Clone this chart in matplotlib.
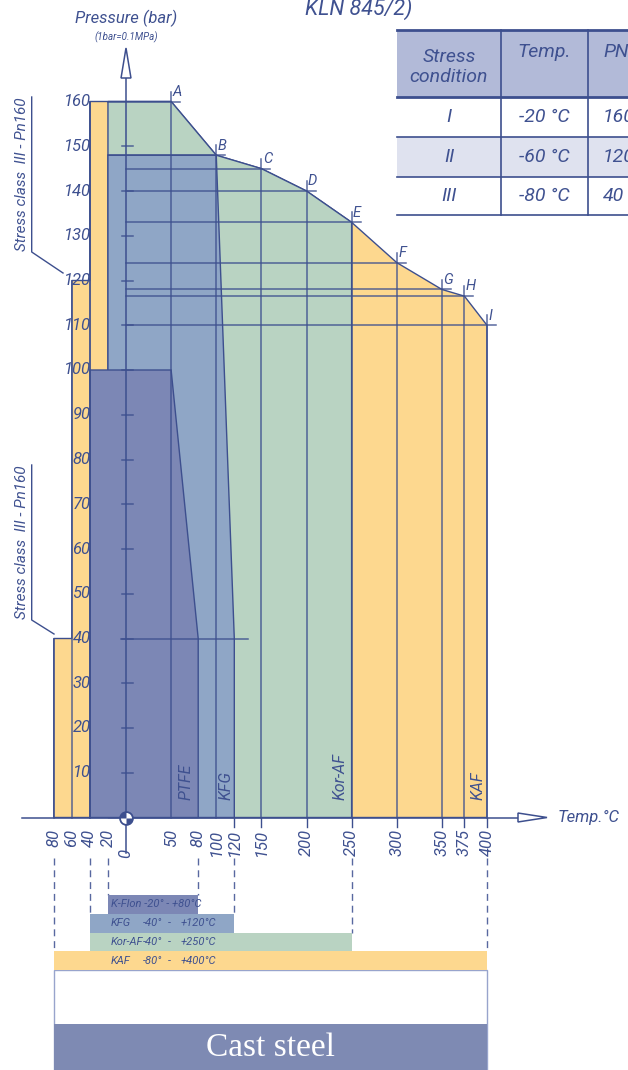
import matplotlib
matplotlib.use('Agg')
import matplotlib.pyplot as plt
from matplotlib.patches import Polygon, Rectangle
from matplotlib.path import Path

plt.rcParams['font.family'] = ['Roboto', 'DejaVu Sans']
plt.rcParams['font.weight'] = 'normal'

# --- chart data: temperature (deg C) / pressure (bar) ---
point_names = ['A', 'B', 'C', 'D', 'E', 'F', 'G', 'H', 'I']
point_temp = [50, 100, 150, 200, 250, 300, 350, 375, 400]
point_press = [160, 148, 145, 140, 133, 124, 118, 116.5, 110]

kaf_step_temp = [-80, -60, -40]
kaf_step_press = [40, 120, 160]

korf_left = -20
kfg_temp = [-20, 100, 120]
kfg_press = [148, 148, 40]
ptfe_temp = [-40, 50, 80]
ptfe_press = [100, 100, 40]

x_ticks = [-80, -60, -40, -20, 0, 50, 80, 100, 120, 150, 200, 250, 300, 350, 375, 400]
y_ticks = list(range(10, 170, 10))

legend_names = ['K-Flon', 'KFG', 'Kor-AF', 'KAF']
legend_lo = [-20, -40, -40, -80]
legend_hi = [80, 120, 250, 400]

stress_cond = ['I', 'II', 'III']
stress_temp = ['-20 °C', '-60 °C', '-80 °C']
stress_pn = ['160', '120', '40']

# colours
C_KAF = '#fdd88f'
C_KOR = '#b9d3c2'
C_KFG = '#8fa6c6'
C_PTFE = '#7c87b5'
LINE = '#3d4f8e'
TXT = '#3f5190'

# pixel -> data helpers (used only for layout of decorations)
X0PX, XS = 126.0, 0.9025
Y0PX, YS = 817.5, 4.475
def tx(px):
    return (px - X0PX) / XS
def ty(py):
    return (Y0PX - py) / YS

fig = plt.figure(figsize=(6.28, 10.70), dpi=100)
ax = fig.add_axes([0, 0, 1, 1])
ax.set_xlim(tx(0), tx(628))
ax.set_ylim(ty(1070), ty(0))
ax.axis('off')

pts = list(zip(point_temp, point_press))

# KAF envelope
kaf = [(kaf_step_temp[0], 0)]
for i, (t, p) in enumerate(zip(kaf_step_temp, kaf_step_press)):
    if i > 0:
        kaf.append((t, kaf_step_press[i - 1]))
    kaf.append((t, p))
kaf += pts + [(point_temp[-1], 0)]
ax.add_patch(Polygon(kaf, closed=True, fc=C_KAF, ec=LINE, lw=1, zorder=1))

# Kor-AF
e_idx = point_temp.index(250)
kor = [(korf_left, 0), (korf_left, point_press[0])] + pts[:e_idx + 1] + [(point_temp[e_idx], 0)]
ax.add_patch(Polygon(kor, closed=True, fc=C_KOR, ec=LINE, lw=1, zorder=2))

# KFG
kfg = [(kfg_temp[0], 0)] + list(zip(kfg_temp, kfg_press)) + [(kfg_temp[-1], 0)]
ax.add_patch(Polygon(kfg, closed=True, fc=C_KFG, ec=LINE, lw=1, zorder=3))

# PTFE
ptfe = [(ptfe_temp[0], 0)] + list(zip(ptfe_temp, ptfe_press)) + [(ptfe_temp[-1], 0)]
ax.add_patch(Polygon(ptfe, closed=True, fc=C_PTFE, ec=LINE, lw=1, zorder=4))

lk = dict(color=LINE, lw=1.1, alpha=0.85, zorder=5)

# vertical lines at the steps
for t, p in zip(kaf_step_temp, kaf_step_press):
    ax.plot([t, t], [0, p], **lk)
ax.plot([-40, -40], [0, 160], **lk)

# point grid lines + letter markers
for name, t, p in zip(point_names, point_temp, point_press):
    ax.plot([t, t], [0, p + 2.2], **lk)
    x_start = korf_left if p >= 148 else 0
    ax.plot([x_start, t + 10], [p, p], **lk)
    ax.text(t + 1.5, p + 0.6, name, color=TXT, fontsize=10.5, style='italic',
            ha='left', va='bottom', zorder=7)

# 40 bar reference line
ax.plot([-5, 135], [40, 40], **lk)

# y axis with arrow
ax.plot([0, 0], [ty(853), ty(78)], color=LINE, lw=1.1, zorder=6)
ax.add_patch(Polygon([(-5.5, ty(78)), (5.5, ty(78)), (0, ty(48))], closed=True,
                     fc='white', ec=LINE, lw=1.1, zorder=6))
for p in y_ticks[:-1]:
    ax.plot([tx(122), tx(133)], [p, p], color=LINE, lw=1.1, alpha=0.85, zorder=6)
for p in y_ticks:
    ax.text(tx(90.5), p, str(p), color=TXT, fontsize=12, style='italic',
            ha='right', va='center', zorder=7)

# x axis with arrow
ax.plot([tx(22), tx(518)], [0, 0], color=LINE, lw=1.1, zorder=6)
ax.add_patch(Polygon([(tx(518), 1.0), (tx(518), -1.0), (tx(547), 0)], closed=True,
                     fc='white', ec=LINE, lw=1.1, zorder=6))
for t in x_ticks:
    if t > 100:
        ax.plot([t, t], [0, ty(827)], color=LINE, lw=1, zorder=6)
    lab = str(abs(t))
    y_lab = ty(849) if t == 0 else ty(829)
    ax.text(t, y_lab, lab, color=TXT, fontsize=12, style='italic', rotation=90,
            ha='center', va='top', zorder=7)

ax.text(tx(558), 0, 'Temp.°C', color=TXT, fontsize=12, style='italic',
        ha='left', va='center')
ax.text(0, ty(18), 'Pressure (bar)', color=TXT, fontsize=12, style='italic',
        ha='center', va='center')
ax.text(0, ty(37), '(1bar=0.1MPa)', color=TXT, fontsize=7, style='italic',
        ha='center', va='center')

# origin symbol
ax.scatter([0], [0], s=85, marker='o', fc='white', ec=LINE, lw=1.3, zorder=8)
for w in [Path.wedge(90, 180), Path.wedge(270, 360)]:
    ax.scatter([0], [0], s=85, marker=w, fc=LINE, ec=LINE, lw=0, zorder=9)

# material labels inside the chart
for t, lab in zip([66.5, 110.8, 237, 390], ['PTFE', 'KFG', 'Kor-AF', 'KAF']):
    ax.text(t, ty(800), lab, color=TXT, fontsize=11.5, style='italic', rotation=90,
            ha='center', va='bottom', zorder=7)

# stress class annotations
for top, bot, ex, ey in [(97, 252, 63, 273), (465, 620, 54, 634)]:
    ax.plot([tx(31.7), tx(31.7), tx(ex)], [ty(top), ty(bot), ty(ey)],
            color=LINE, lw=1, zorder=6)
    ax.text(tx(22), ty((top + bot) / 2), 'Stress class  III - Pn160', color=TXT,
            fontsize=11, style='italic', rotation=90, ha='center', va='center')

# temperature range bars
row_h = 18.75
first_top = {}
for i, (name, lo, hi, c) in enumerate(zip(legend_names, legend_lo, legend_hi,
                                          [C_PTFE, C_KFG, C_KOR, C_KAF])):
    top = 895 + i * row_h
    ax.add_patch(Rectangle((lo, ty(top + row_h)), hi - lo, ty(top) - ty(top + row_h),
                           fc=c, ec='none', zorder=3))
    for t in (lo, hi):
        first_top.setdefault(t, top)
    ymid = ty(top + row_h / 2)
    tk = dict(color=TXT, fontsize=8, style='italic', va='center', zorder=5)
    if name == 'K-Flon':
        ax.text(tx(111), ymid, f'K-Flon {lo}° - +{hi}°C', ha='left', **tk)
    else:
        ax.text(tx(111), ymid, name, ha='left', **tk)
        ax.text(tx(143), ymid, f'{lo}°', ha='left', **tk)
        ax.text(tx(168), ymid, '-', ha='left', **tk)
        ax.text(tx(181), ymid, f'+{hi}°C', ha='left', **tk)

for t, top in first_top.items():
    ax.plot([t, t], [ty(858), ty(top)], color='#5868a0', lw=1,
            dashes=(5, 3.5), zorder=2)

# cast steel box
ax.add_patch(Rectangle((-80, ty(1070)), 480, ty(970) - ty(1070), fc='white',
                       ec='#98a4cc', lw=1, zorder=1))
ax.add_patch(Rectangle((-80, ty(1072)), 480, ty(1024) - ty(1072), fc='#7e8ab3',
                       ec='none', zorder=2))
ax.text(160, ty(1048), 'Cast steel', color='white', fontsize=24,
        family=['Liberation Serif', 'DejaVu Serif'],
        ha='center', va='center', zorder=3)

# table and title (pixel overlay)
ov = fig.add_axes([0, 0, 1, 1], facecolor='none')
ov.set_xlim(0, 628)
ov.set_ylim(1070, 0)
ov.axis('off')

ov.text(305, 15, 'KLN 845/2)', color=TXT, fontsize=15.5, style='italic',
        ha='left', va='baseline')

ov.add_patch(Rectangle((397, 30), 240, 67, fc='#b2bad8', ec='none'))
ov.add_patch(Rectangle((397, 137), 240, 40, fc='#dfe2ef', ec='none'))
for y, lw in [(30, 2), (97, 2), (137, 1.2), (177, 1.2), (215, 1.2)]:
    ov.plot([397, 628], [y, y], color=LINE, lw=lw)
for x in [501, 588]:
    ov.plot([x, x], [30, 215], color=LINE, lw=1.2)

hk = dict(color=TXT, fontsize=14, style='italic', va='center')
ov.text(449, 67, 'Stress\ncondition', ha='center', linespacing=1.2, **hk)
ov.text(544, 52, 'Temp.', ha='center', **hk)
ov.text(603, 52, 'PN', ha='left', **hk)
for i, (c, t, pn) in enumerate(zip(stress_cond, stress_temp, stress_pn)):
    y = 117 + i * 39.5
    ov.text(449, y, c, ha='center', **hk)
    ov.text(544, y, t, ha='center', **hk)
    ov.text(603, y, pn, ha='left', **hk)

fig.savefig('out.png', dpi=100)
